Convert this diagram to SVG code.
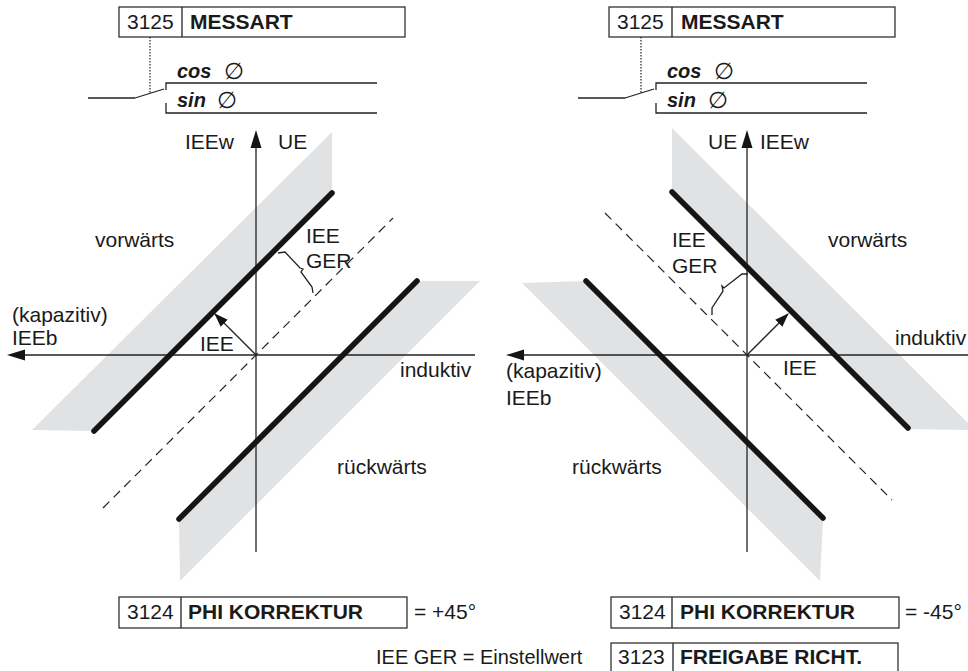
<svg xmlns="http://www.w3.org/2000/svg" width="968" height="671" viewBox="0 0 968 671">
<defs>
<style>
text{font-family:"Liberation Sans",Arial,sans-serif;font-size:21px;fill:#1a1a1a}
.b{font-weight:bold}
.bi{font-weight:bold;font-style:italic;font-size:20px}
.phi{font-style:italic;font-size:23px;font-family:"DejaVu Sans",sans-serif}
.box{fill:#fff;stroke:#222;stroke-width:1.2}
.ln{fill:none;stroke:#222;stroke-width:1.3}
.ax{fill:none;stroke:#222;stroke-width:1.3}
.thick{fill:none;stroke:#151515;stroke-width:5.5;stroke-linecap:round}
.band{fill:#e1e2e4;stroke:none}
.dash{fill:none;stroke:#222;stroke-width:1.2;stroke-dasharray:9 6}
.dot{fill:none;stroke:#222;stroke-width:1.2;stroke-dasharray:1.5 1.5}
.head{fill:#151515;stroke:none}
</style>
<marker id="ah" viewBox="0 0 14 10" refX="13" refY="5" markerWidth="14" markerHeight="10" markerUnits="userSpaceOnUse" orient="auto">
<path d="M0,0 L14,5 L0,10 z" fill="#151515"/>
</marker>
</defs>
<rect width="968" height="671" fill="#fff"/>

<!-- gray bands -->
<g id="bands">
<polygon class="band" points="94,431 332,193 332,132 32,430"/>
<polygon class="band" points="417,281 480,281 180,581 179,519"/>
<polygon class="band" points="672,192 672,128 975,430 908,429"/>
<polygon class="band" points="586,281 522,283 820,581 823,518"/>
</g>

<!-- headers -->
<g id="hdr-left">
<rect class="box" x="119" y="7" width="286" height="30"/>
<line class="ln" x1="182" y1="7" x2="182" y2="37"/>
<text x="127" y="29">3125</text>
<text class="b" x="190" y="29">MESSART</text>
</g>
<g id="hdr-right">
<rect class="box" x="609" y="7" width="286" height="30"/>
<line class="ln" x1="672" y1="7" x2="672" y2="37"/>
<text x="617" y="29">3125</text>
<text class="b" x="681" y="29">MESSART</text>
</g>

<!-- switches -->
<g id="sw-left">
<line class="ln" x1="88" y1="98" x2="135" y2="98"/>
<line class="ln" x1="135" y1="98" x2="164" y2="89"/>
<polyline class="ln" points="166,90 166,83 377,83"/>
<polyline class="ln" points="166,103 166,113 377,113"/>
<text class="bi" x="177" y="78">cos</text>
<text class="phi" x="224" y="79">∅</text>
<text class="bi" x="177" y="107">sin</text>
<text class="phi" x="217" y="108">∅</text>
</g>
<g id="sw-right">
<line class="ln" x1="578" y1="98" x2="625" y2="98"/>
<line class="ln" x1="625" y1="98" x2="654" y2="89"/>
<polyline class="ln" points="656,90 656,83 867,83"/>
<polyline class="ln" points="656,103 656,113 867,113"/>
<text class="bi" x="667" y="78">cos</text>
<text class="phi" x="714" y="79">∅</text>
<text class="bi" x="667" y="107">sin</text>
<text class="phi" x="708" y="108">∅</text>
</g>

<!-- connectors / plot lines -->
<g id="connectors">
<line class="dot" x1="150" y1="37" x2="150" y2="93"/>
<line class="dot" x1="641" y1="37" x2="641" y2="93"/>

<!-- left plot -->
<line class="ax" x1="256" y1="552" x2="256" y2="140"/>
<polygon class="head" points="256,130 250.5,148 261.5,148"/>
<line class="ax" x1="475" y1="355" x2="18" y2="355"/>
<polygon class="head" points="7,355 25,349.5 25,360.5"/>
<line class="dash" x1="103" y1="508" x2="393" y2="218"/>
<line class="thick" x1="94" y1="431" x2="332" y2="193"/>
<line class="thick" x1="417" y1="281" x2="179" y2="519"/>
<line class="ln" x1="256" y1="355" x2="215" y2="314" marker-end="url(#ah)"/>
<polyline class="ln" points="278,253 285,252 300,268 303,269 301,272 312,287 313,293"/>

<!-- right plot -->
<line class="ax" x1="747" y1="552" x2="747" y2="140"/>
<polygon class="head" points="747,130 741.5,148 752.5,148"/>
<line class="ax" x1="968" y1="355" x2="517" y2="355"/>
<polygon class="head" points="506,355 524,349.5 524,360.5"/>
<line class="dash" x1="605" y1="213" x2="892" y2="500"/>
<line class="thick" x1="672" y1="192" x2="908" y2="428"/>
<line class="thick" x1="586" y1="281" x2="823" y2="518"/>
<line class="ln" x1="747" y1="355" x2="788" y2="314" marker-end="url(#ah)"/>
<polyline class="ln" points="748,274 742,274 724,288 722,286 723,291 712,308 712,315"/>
</g>

<!-- left labels -->
<g id="labels-left">
<text x="185" y="149">IEEw</text>
<text x="278" y="149">UE</text>
<text x="95" y="247">vorwärts</text>
<text x="306" y="243">IEE</text>
<text x="306" y="268">GER</text>
<text x="12" y="322">(kapazitiv)</text>
<text x="12" y="345">IEEb</text>
<text x="200" y="351">IEE</text>
<text x="400" y="377">induktiv</text>
<text x="337" y="474">rückwärts</text>
</g>

<!-- right labels -->
<g id="labels-right">
<text x="708" y="149">UE</text>
<text x="760" y="149">IEEw</text>
<text x="672" y="247">IEE</text>
<text x="672" y="273">GER</text>
<text x="828" y="247">vorwärts</text>
<text x="895" y="345">induktiv</text>
<text x="506" y="378">(kapazitiv)</text>
<text x="506" y="405">IEEb</text>
<text x="783" y="375">IEE</text>
<text x="572" y="474">rückwärts</text>
</g>

<!-- bottom boxes -->
<g id="phi-left">
<rect class="box" x="119" y="597" width="288" height="31"/>
<line class="ln" x1="181" y1="597" x2="181" y2="628"/>
<text x="127" y="619">3124</text>
<text class="b" x="188" y="619">PHI KORREKTUR</text>
<text x="414" y="619">= +45°</text>
</g>
<g id="phi-right">
<rect class="box" x="611" y="597" width="288" height="31"/>
<line class="ln" x1="672" y1="597" x2="672" y2="628"/>
<text x="619" y="619">3124</text>
<text class="b" x="680" y="619">PHI KORREKTUR</text>
<text x="905" y="619">= -45°</text>
</g>
<g id="freigabe">
<rect class="box" x="611" y="643" width="287" height="40"/>
<line class="ln" x1="673" y1="643" x2="673" y2="683"/>
<text x="618" y="664">3123</text>
<text class="b" x="680" y="664">FREIGABE RICHT.</text>
</g>
<g id="legend">
<text x="376" y="664" style="font-size:20px">IEE GER = Einstellwert</text>
</g>
</svg>
